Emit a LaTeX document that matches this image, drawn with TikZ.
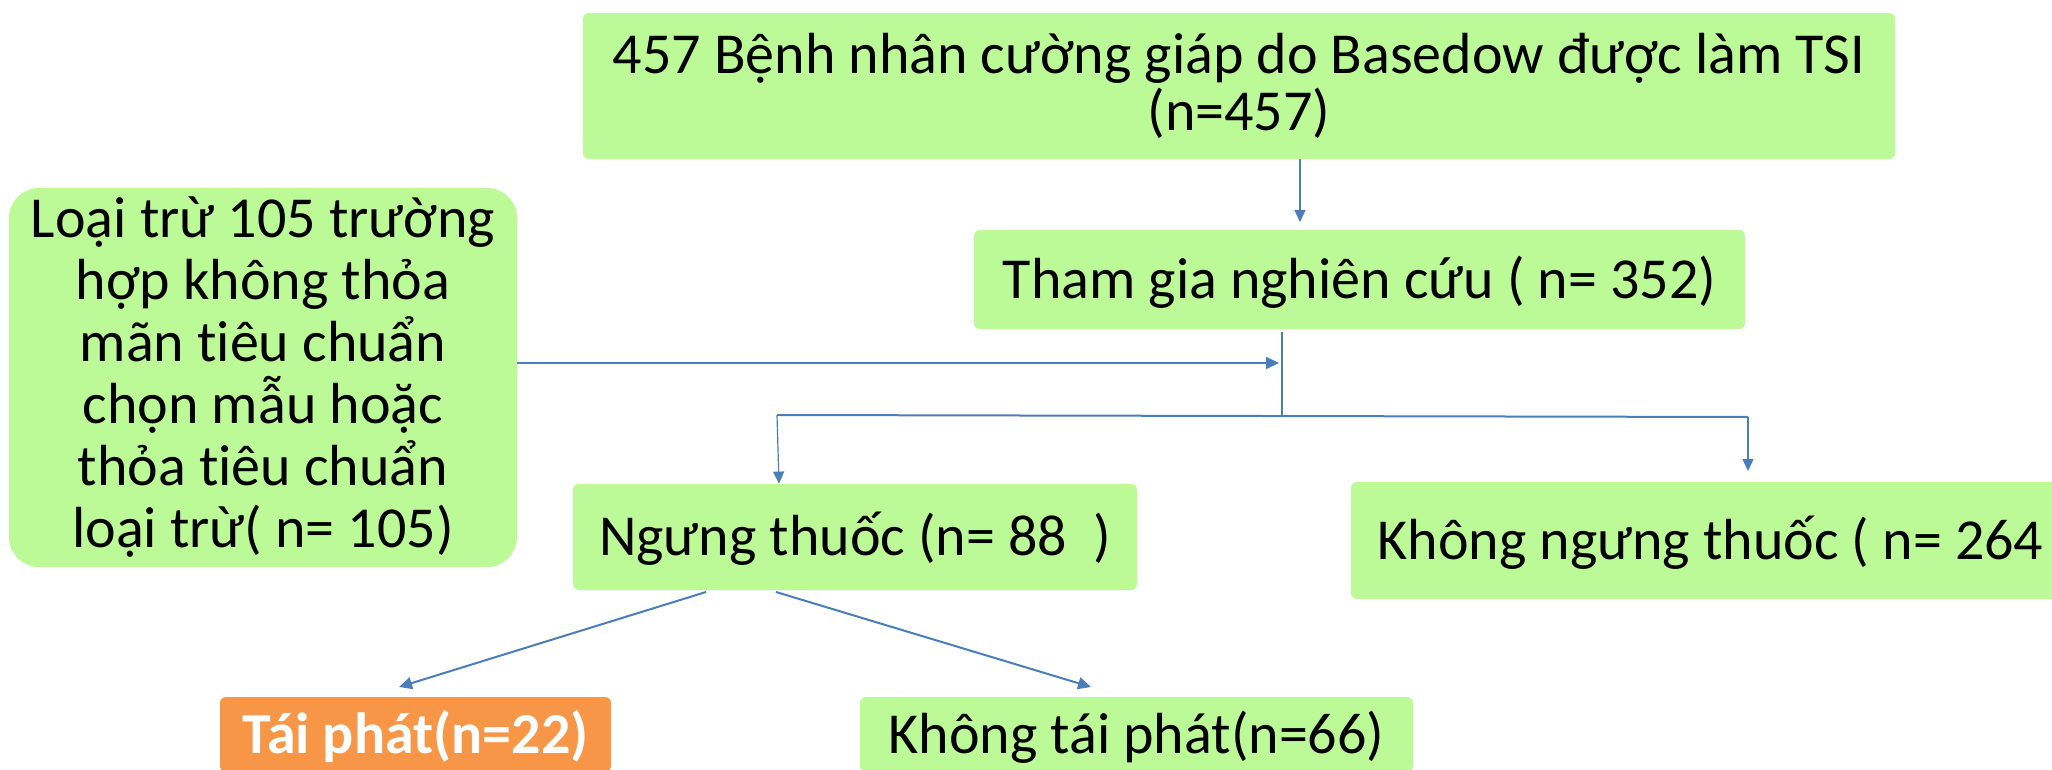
\documentclass[tikz,border=0pt]{standalone}
\usepackage{fontspec}
\setmainfont{Carlito}[Ligatures=NoCommon]
\usetikzlibrary{arrows.meta}
\definecolor{boxgreen}{RGB}{187,250,150}
\definecolor{boxorange}{RGB}{247,150,70}
\definecolor{linkblue}{RGB}{74,126,187}
\begin{document}
\begin{tikzpicture}[x=0.5pt,y=-0.5pt,
  box/.style={fill=boxgreen, rounded corners=3pt, inner sep=0pt,
    font=\fontsize{29}{31}\selectfont, align=center},
  one/.style={text height=18.7pt, text depth=0pt},
  link/.style={draw=linkblue, line width=1pt, -{Triangle[length=6.5pt,width=6pt]}},
  thinlink/.style={draw=linkblue, line width=0.6pt, -{Triangle[length=6pt,width=5.5pt]}},
  thinline/.style={draw=linkblue, line width=0.6pt}
]
\useasboundingbox (0,0) rectangle (2052,770);
\clip (0,0) rectangle (2052,770);

% boxes
\node[box, minimum width=656pt, minimum height=73pt,
      font=\fontsize{29}{28.5}\selectfont] (total) at (1239,86)
  {457 Bệnh nhân cường giáp do Basedow được làm TSI\\(n=457)};
\node[box, one, minimum width=385.5pt, minimum height=49.5pt] (study) at (1359.5,279.5)
  {Tham gia nghiên cứu ( n= 352)};
\node[box, rounded corners=15pt, minimum width=254pt, minimum height=189.5pt] (excl) at (263,377.5)
  {Loại trừ 105 trường\\hợp không thỏa\\mãn tiêu chuẩn\\chọn mẫu hoặc\\thỏa tiêu chuẩn\\loại trừ( n= 105)};
\node[box, one, minimum width=282pt, minimum height=53pt] (stop) at (855,537)
  {Ngưng thuốc (n= 88\ \ )};
\node[box, one, minimum width=359.5pt, minimum height=58.5pt] (cont) at (1710.5,540.5)
  {Không ngưng thuốc ( n= 264};
\node[box, one, fill=boxorange, text=white, font=\fontsize{29}{31}\selectfont\bfseries,
      minimum width=195.5pt, minimum height=37.5pt] (relapse) at (415.5,734.5)
  {Tái phát(n=22)};
\node[box, one, minimum width=276.5pt, minimum height=37.5pt] (norelapse) at (1136.5,734.5)
  {Không tái phát(n=66)};

% junction points of the branching connector
\coordinate (jtop) at (1282,332);
\coordinate (jmid) at (1282,416);
\coordinate (jl) at (777,415);
\coordinate (jr) at (1748,417);

% connectors
\draw[thinlink] (total.south -| 1300,0) -- (1300,222);
\draw[link] (excl.east |- 0,363) -- (1279,363);
\draw[thinline] (jtop) -- (jmid);
\draw[draw=linkblue, line width=1pt] (jl) -- (jr);
\draw[thinlink] (jl) -- (stop.north -| 779,0);
\draw[thinlink] (jr) -- (1748,471);
\draw[link] (706,592) -- (399,687);
\draw[link] (776,592) -- (1091,687);
\end{tikzpicture}
\end{document}
